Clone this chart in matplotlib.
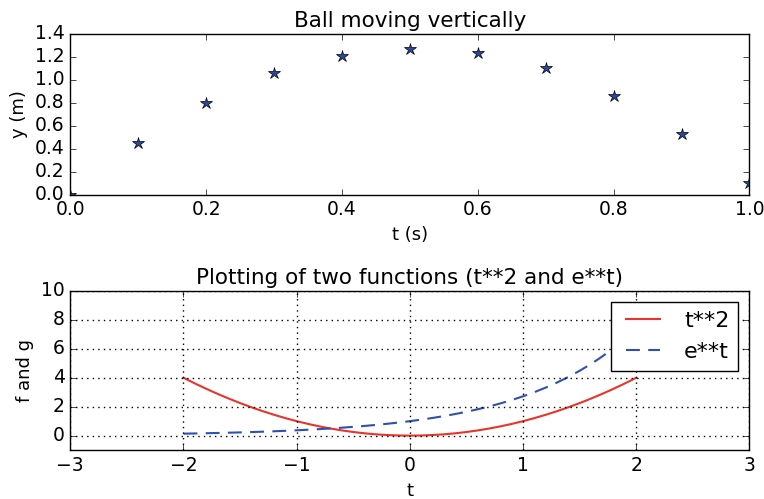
import matplotlib
matplotlib.use("Agg")
import matplotlib.pyplot as plt

# ball data
t_ball = [0.0, 0.1, 0.2, 0.3, 0.4, 0.5, 0.6, 0.7, 0.8, 0.9, 1.0]
y_ball = [0.0, 0.45, 0.80, 1.06, 1.21, 1.27, 1.23, 1.10, 0.86, 0.53, 0.10]

# the two curves, sampled along t
t_fun = [-2.0, -1.9, -1.8, -1.7, -1.6, -1.5, -1.4, -1.3, -1.2, -1.1, -1.0,
         -0.9, -0.8, -0.7, -0.6, -0.5, -0.4, -0.3, -0.2, -0.1, 0.0,
         0.1, 0.2, 0.3, 0.4, 0.5, 0.6, 0.7, 0.8, 0.9, 1.0,
         1.1, 1.2, 1.3, 1.4, 1.5, 1.6, 1.7, 1.8, 1.9, 2.0]
f_vals = [4.0, 3.61, 3.24, 2.89, 2.56, 2.25, 1.96, 1.69, 1.44, 1.21, 1.0,
          0.81, 0.64, 0.49, 0.36, 0.25, 0.16, 0.09, 0.04, 0.01, 0.0,
          0.01, 0.04, 0.09, 0.16, 0.25, 0.36, 0.49, 0.64, 0.81, 1.0,
          1.21, 1.44, 1.69, 1.96, 2.25, 2.56, 2.89, 3.24, 3.61, 4.0]
g_vals = [0.135, 0.150, 0.165, 0.183, 0.202, 0.223, 0.247, 0.273, 0.301, 0.333, 0.368,
          0.407, 0.449, 0.497, 0.549, 0.607, 0.670, 0.741, 0.819, 0.905, 1.0,
          1.105, 1.221, 1.350, 1.492, 1.649, 1.822, 2.014, 2.226, 2.460, 2.718,
          3.004, 3.320, 3.669, 4.055, 4.482, 4.953, 5.474, 6.050, 6.686, 7.389]

plt.style.use("classic")
plt.rcParams["font.family"] = "DejaVu Sans"

fig = plt.figure(figsize=(7.64, 4.99), dpi=100)
fig.patch.set_facecolor("white")

ax1 = fig.add_axes([0.092, 0.61, 0.889, 0.322])
ax1.plot(t_ball, y_ball, "*", color="#2a48a0", markeredgecolor="black",
         markersize=9)
ax1.set_xlim(0, 1.0)
ax1.set_ylim(0, 1.4)
ax1.set_title("Ball moving vertically", fontsize=15.5)
ax1.set_xlabel("t (s)", fontsize=13)
ax1.set_ylabel("y (m)", fontsize=13)

ax2 = fig.add_axes([0.092, 0.098, 0.889, 0.319])
ax2.plot(t_fun, f_vals, "-", color="#e8342a", linewidth=1.5, label="t**2")
ax2.plot(t_fun, g_vals, "--", color="#3050b0", linewidth=1.5, label="e**t",
         dashes=(10, 6))
ax2.set_xlim(-3, 3)
ax2.set_ylim(-1, 10)
ax2.set_yticks([0, 2, 4, 6, 8, 10])
ax2.grid(True, linestyle=":", color="black", linewidth=1)
ax2.set_title("Plotting of two functions (t**2 and e**t)", fontsize=15.5)
ax2.set_xlabel("t", fontsize=13)
ax2.set_ylabel("f and g", fontsize=13)
leg = ax2.legend(loc="upper right", fontsize=16, handlelength=2.1)
leg.get_frame().set_facecolor("white")

for ax in (ax1, ax2):
    ax.tick_params(labelsize=13.5)
    ax.set_facecolor("white")

fig.savefig("out.png", dpi=100, facecolor="white")
